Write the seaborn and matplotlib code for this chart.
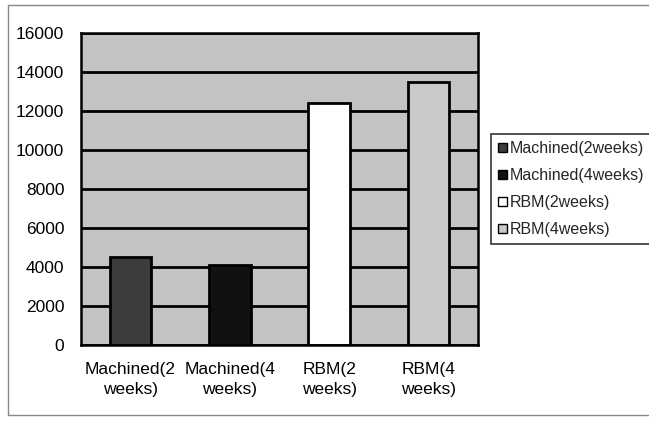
import matplotlib
matplotlib.use("Agg")
import matplotlib.pyplot as plt
import seaborn as sns
import pandas as pd
from matplotlib.patches import Patch, Rectangle

# data
categories = ["Machined(2\nweeks)", "Machined(4\nweeks)", "RBM(2\nweeks)", "RBM(4\nweeks)"]
legend_labels = ["Machined(2weeks)", "Machined(4weeks)", "RBM(2weeks)", "RBM(4weeks)"]
values = [4500, 4100, 12400, 13500]
bar_colors = ["#3c3c3c", "#111111", "#ffffff", "#c9c9c9"]

df = pd.DataFrame({"group": categories, "value": values})

sns.set_style("white")
plt.rcParams["font.family"] = ["Liberation Sans", "DejaVu Sans"]

fig = plt.figure(figsize=(6.49, 4.21), dpi=100)
ax = fig.add_axes([81 / 649, 76 / 421, 397 / 649, 312 / 421])

# stippled grey plot area
ax.set_facecolor("#c3c3c3")
ax.set_axisbelow(True)
ax.yaxis.grid(True, color="black", linewidth=2)

sns.barplot(data=df, x="group", y="value", hue="group", palette=bar_colors,
            width=0.42, edgecolor="black", linewidth=2, legend=False, ax=ax)

ax.set_ylim(0, 16000)
ax.set_yticks(range(0, 16001, 2000))
ax.set_xlim(-0.5, 3.5)
ax.set_xlabel("")
ax.set_ylabel("")
ax.tick_params(axis="both", length=0, labelsize=12.5, colors="black")
ax.tick_params(axis="y", pad=12)
ax.tick_params(axis="x", pad=12)
for lbl in ax.get_xticklabels():
    lbl.set_linespacing(1.45)
for sp in ax.spines.values():
    sp.set_visible(True)
    sp.set_color("black")
    sp.set_linewidth(1.8)

# legend on the right
handles = [Patch(facecolor=c, edgecolor="black", linewidth=1) for c in bar_colors]
leg = fig.legend(handles, legend_labels, loc="upper left",
                 bbox_to_anchor=(491 / 649, 1 - 134 / 421),
                 frameon=True, fancybox=False, edgecolor="black",
                 fontsize=11.5, handlelength=0.55, handleheight=0.55,
                 handletextpad=0.2, labelspacing=0.75, borderpad=0.45,
                 borderaxespad=0)
leg.get_frame().set_linewidth(1.2)

# thin outer chart border
fig.patches.append(Rectangle((8 / 649, 6 / 421), 645 / 649, 410 / 421,
                             transform=fig.transFigure, fill=False,
                             edgecolor="#888888", linewidth=1))

fig.savefig("out.png", dpi=100)
